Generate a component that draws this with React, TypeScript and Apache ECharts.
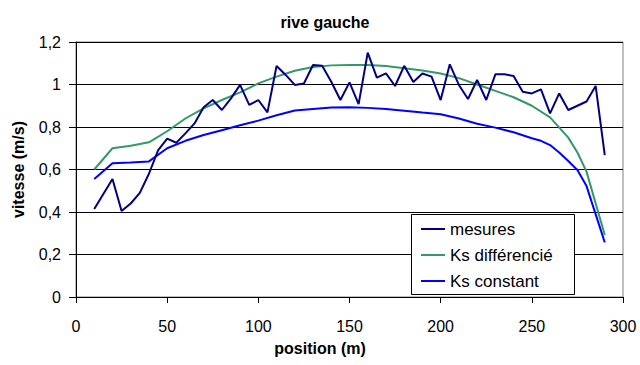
import React, { useEffect, useRef } from "react";
import * as echarts from "echarts";

const mesuresX = [10, 20, 25, 30, 35, 40, 45, 50, 55, 60, 65, 70, 75, 80, 85, 90, 95, 100, 105, 110, 115, 120, 125, 130, 135, 140, 145, 150, 155, 160, 165, 170, 175, 180, 185, 190, 195, 200, 205, 210, 215, 220, 225, 230, 235, 240, 245, 250, 255, 260, 265, 270, 275, 280, 285, 290];
const mesuresY = [0.414, 0.555, 0.405, 0.44, 0.49, 0.58, 0.69, 0.745, 0.726, 0.77, 0.817, 0.893, 0.927, 0.88, 0.935, 0.998, 0.904, 0.927, 0.869, 1.087, 1.045, 0.998, 1.005, 1.092, 1.088, 1.013, 0.927, 1.01, 0.908, 1.15, 1.032, 1.052, 0.993, 1.088, 1.012, 1.052, 1.037, 0.927, 1.095, 0.998, 0.932, 1.021, 0.927, 1.048, 1.048, 1.04, 0.966, 0.958, 0.977, 0.864, 0.958, 0.88, 0.9, 0.92, 0.993, 0.668];

const diffX = [10, 20, 30, 40, 50, 60, 70, 80, 90, 100, 110, 120, 130, 140, 150, 160, 170, 180, 190, 200, 210, 220, 230, 240, 250, 260, 270, 275, 280, 290];
const diffY = [0.6, 0.7, 0.712, 0.728, 0.78, 0.84, 0.888, 0.927, 0.963, 1.005, 1.037, 1.065, 1.082, 1.09, 1.092, 1.092, 1.087, 1.077, 1.066, 1.052, 1.03, 1.0, 0.97, 0.94, 0.9, 0.845, 0.75, 0.68, 0.59, 0.292];

const constX = [10, 20, 30, 40, 50, 60, 70, 80, 90, 100, 110, 120, 130, 140, 150, 160, 170, 180, 190, 200, 210, 220, 230, 240, 250, 255, 260, 265, 270, 275, 280, 290];
const constY = [0.555, 0.629, 0.633, 0.638, 0.7, 0.735, 0.762, 0.785, 0.808, 0.83, 0.855, 0.878, 0.885, 0.892, 0.893, 0.89, 0.885, 0.877, 0.868, 0.86, 0.84, 0.815, 0.797, 0.775, 0.747, 0.735, 0.715, 0.68, 0.64, 0.598, 0.522, 0.257];

const seriesNames = ["mesures", "Ks différencié", "Ks constant"];
const seriesColors = ["#000080", "#339966", "#0000FF"];
const titleText = "rive gauche";
const xTitle = "position (m)";
const yTitle = "vitesse (m/s)";

const pairs = (xs: number[], ys: number[]) => xs.map((x, i) => [x, ys[i]]);

const FONT = "Liberation Sans, Arial, sans-serif";

export default function App() {
  const ref = useRef<HTMLDivElement>(null);
  useEffect(() => {
    if (!ref.current) return;
    const chart = echarts.init(ref.current, undefined, { renderer: "svg" });
    const datas = [pairs(mesuresX, mesuresY), pairs(diffX, diffY), pairs(constX, constY)];
    chart.setOption({
      animation: false,
      backgroundColor: "#ffffff",
      title: {
        text: titleText,
        left: 320,
        top: 9,
        textAlign: "center",
        textStyle: { fontFamily: FONT, fontSize: 16, fontWeight: "bold", color: "#000" },
      },
      grid: {
        left: 76,
        right: 17,
        top: 42,
        bottom: 68,
        show: true,
        borderColor: "#808080",
        borderWidth: 1,
        backgroundColor: "#fff",
      },
      graphic: [
        {
          type: "rect",
          z: 50,
          shape: { x: 411.5, y: 214.5, width: 163, height: 80 },
          style: { fill: "#fff", stroke: "#000", lineWidth: 1 },
        },
        {
          type: "text",
          z: 50,
          x: 320,
          y: 348,
          style: {
            text: xTitle,
            fontFamily: FONT,
            fontSize: 16,
            fontWeight: "bold",
            fill: "#000",
            align: "center",
            verticalAlign: "middle",
          },
        },
      ],
      legend: {
        orient: "vertical",
        left: 412,
        top: 215,
        padding: [5, 8, 5, 9],
        itemGap: 8,
        itemWidth: 24,
        itemHeight: 18,
        z: 60,
        icon: "path://M0,8 L24,8 L24,10 L0,10 Z",
        textStyle: { fontFamily: FONT, fontSize: 17, lineHeight: 18, color: "#000" },
        data: seriesNames,
      },
      xAxis: {
        type: "value",
        min: 0,
        max: 300,
        interval: 50,
        axisLine: { show: true, lineStyle: { color: "#000", width: 1 } },
        axisTick: { show: true, inside: false, length: 6, lineStyle: { color: "#000" } },
        axisLabel: { fontFamily: FONT, fontSize: 16, color: "#000", margin: 21 },
        splitLine: { show: false },
      },
      yAxis: {
        type: "value",
        min: 0,
        max: 1.2,
        interval: 0.2,
        name: yTitle,
        nameLocation: "middle",
        nameGap: 50,
        nameRotate: 90,
        nameTextStyle: { fontFamily: FONT, fontSize: 16, fontWeight: "bold", color: "#000" },
        axisLine: { show: true, lineStyle: { color: "#000", width: 1 } },
        axisTick: { show: true, inside: false, length: 7, lineStyle: { color: "#000" } },
        axisLabel: {
          fontFamily: FONT,
          fontSize: 16,
          color: "#000",
          margin: 15,
          formatter: (v: number) => String(Math.round(v * 10) / 10).replace(".", ","),
        },
        splitLine: { show: true, lineStyle: { color: "#000", width: 1 } },
      },
      series: seriesNames.map((name, i) => ({
        name,
        type: "line",
        data: datas[i],
        showSymbol: false,
        symbol: "none",
        lineStyle: { color: seriesColors[i], width: 2 },
        itemStyle: { color: seriesColors[i] },
        z: 5 - i,
      })),
    });
    return () => chart.dispose();
  }, []);
  return <div ref={ref} style={{ width: 640, height: 365, position: "absolute", left: 0, top: 0 }} />;
}
